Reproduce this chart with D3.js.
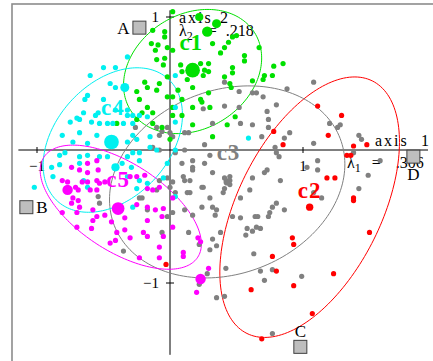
<!DOCTYPE html>
<html>
<head>
<meta charset="utf-8">
<script src="https://cdn.jsdelivr.net/npm/d3@7"></script>
<style>
html, body { margin: 0; padding: 0; background: #fff; overflow: hidden; }
svg { display: block; }
text { font-family: "Liberation Serif", "DejaVu Serif", serif; }
</style>
</head>
<body>
<svg id="chart" width="433" height="361"></svg>
<script>
// factorial map, axes 1-2, five classes + 4 supplementary points
const eigenValues = [".306", ".218"];
const tickValues = [-1, 1];
const xAxisExtent = [-1.14, 1.94];
const yAxisExtent = [-1.54, 1.05];

// points: [axis1, axis2, weight]
const c1Points = [[0.02,1.04],[0.22,1.00,2.5],[0.35,0.95,3],[0.28,0.89,4],[-0.13,0.90],[-0.04,0.89],[-0.04,0.85],[-0.14,0.80],[-0.09,0.79],[-0.11,0.75],[-0.02,0.77],[0.02,0.75],[0.32,0.80],[0.38,0.73],[0.44,0.81],[0.47,0.85],[0.50,0.86],[0.41,0.77],[0.56,0.71],[0.56,0.67],[0.67,0.77],[-0.10,0.68],[-0.04,0.69],[-0.05,0.64],[0.17,0.60,8],[0.08,0.64],[0.09,0.59],[0.23,0.65],[0.29,0.65],[0.26,0.60],[0.29,0.59],[0.25,0.56],[0.47,0.62],[0.47,0.58],[0.41,0.55],[0.62,0.52],[0.71,0.56],[0.77,0.56],[0.70,0.53],[0.85,0.65],[0.78,0.63],[0.45,0.50],[0.46,0.47],[-0.19,0.51],[-0.17,0.47],[-0.10,0.45],[-0.08,0.50],[-0.25,0.44],[-0.23,0.38],[-0.02,0.55],[-0.02,0.40],[0.02,0.40],[0.06,0.45],[0.09,0.38],[0.13,0.53],[0.17,0.47],[0.17,0.32],[0.23,0.38],[0.29,0.43],[-0.17,0.32],[-0.21,0.28],[-0.13,0.28],[0.02,0.32],[0.02,0.26],[0.09,0.26],[0.24,0.36],[0.30,0.32],[0.49,0.25],[-0.40,0.20],[-0.13,0.20],[-0.06,0.17],[0.00,0.08],[0.32,0.10],[0.17,0.19],[-0.25,0.23],[0.43,0.19]];
const c2Points = [[1.11,0.33],[1.29,0.26],[0.78,0.14],[1.19,0.11],[0.85,0.04],[1.38,0.03],[1.48,0.04],[1.33,-0.04],[1.36,-0.04],[1.18,-0.21],[1.24,-0.21],[1.38,-0.36],[1.38,-0.38],[1.05,-0.43,2],[1.50,-0.62],[0.92,-0.66],[0.93,-0.71],[0.77,-0.80],[0.80,-0.91],[0.61,-1.05],[0.93,-1.02],[1.23,-0.93],[1.07,-1.23],[0.69,-1.42],[-0.03,-0.86]];
const c3Points = [[0.41,0.51],[0.52,0.44],[0.62,0.43],[0.65,0.43],[0.70,0.40],[0.88,0.46],[1.08,0.51],[0.80,0.34],[0.73,0.29],[0.52,0.32],[0.41,0.33],[0.25,0.31],[0.74,0.23],[0.32,0.20],[0.62,0.19],[0.74,0.17],[0.53,0.20],[0.26,0.04],[0.69,0.10],[0.90,0.13],[0.86,0.09],[1.20,0.20],[1.28,0.19],[1.26,0.17],[1.08,0.05],[0.79,0.02],[0.80,-0.02],[0.82,-0.05],[0.26,-0.10],[1.42,0.11],[1.44,0.08],[1.38,-0.02],[1.58,-0.08],[1.49,-0.19],[1.42,-0.29],[1.11,-0.08],[1.03,-0.13],[1.11,-0.15],[0.32,-0.17],[0.43,-0.24,2],[0.41,-0.21],[0.45,-0.23],[0.41,-0.29],[0.40,-0.32],[0.62,-0.21],[0.73,-0.15],[0.71,-0.17],[0.60,-0.30],[0.83,-0.23],[0.24,-0.28],[0.30,-0.36],[0.53,-0.36],[0.24,-0.43],[0.32,-0.43],[0.35,-0.45],[0.77,-0.43],[0.80,-0.40],[0.86,-0.45],[1.14,-0.36],[1.08,-0.32],[0.47,-0.50],[0.53,-0.51],[0.74,-0.50],[0.64,-0.50],[-0.06,0.14],[0.11,0.13],[0.14,0.13],[0.10,-0.20],[0.11,-0.23],[0.17,-0.13],[0.17,-0.15],[0.02,-0.24],[-0.02,-0.21],[0.45,-0.26],[0.45,-0.20],[0.15,-0.32],[0.25,-0.28],[0.11,-0.45],[0.17,-0.49],[0.34,-0.49],[0.66,-0.50],[0.75,-0.47],[0.58,-0.59],[0.65,-0.58],[0.68,-0.59],[-0.08,0.11],[0.00,0.13],[-0.13,0.02],[-0.08,0.00],[0.04,-0.02],[0.11,0.00],[0.17,-0.08],[0.09,-0.10],[0.15,-0.23],[-0.08,-0.23],[0.04,-0.32],[0.13,-0.32],[-0.10,-0.30],[-0.23,-0.36],[-0.54,-0.35],[-0.53,-0.40],[-0.02,-0.50],[-0.10,0.17],[-0.02,0.17],[0.02,0.10],[-0.26,0.17],[-0.21,-0.36],[-0.17,-0.45],[0.00,-0.28],[0.02,-0.47],[0.30,-0.04],[-0.06,-0.62],[0.14,-0.62],[-0.35,-0.76],[0.22,-0.71],[0.32,-0.67],[0.35,-0.72],[0.30,-0.75],[0.28,-0.93],[0.22,-1.01],[0.35,-1.11],[0.38,-0.62],[0.57,-0.64],[0.62,-0.61],[0.63,-0.78],[0.42,-0.89],[0.68,-0.91],[0.77,-0.90],[0.71,-0.98],[0.99,-0.95],[0.41,-1.10],[0.77,-1.38]];
const c4Points = [[-0.32,0.70],[-0.60,0.56],[-0.50,0.62],[-0.41,0.62],[-0.62,0.41],[-0.64,0.38],[-0.34,0.47,3],[-0.45,0.50],[-0.41,0.47],[0.04,0.56],[-0.50,0.38],[-0.56,0.26],[-0.41,0.30],[-0.32,0.30],[-0.28,0.26],[-0.23,0.26],[-0.17,0.25],[-0.70,0.24],[-0.15,0.10],[0.04,0.21],[-0.32,-0.05],[-0.29,-0.13],[-0.23,-0.08],[-0.32,-0.20],[-0.23,-0.23],[-0.17,-0.25],[0.04,-0.35],[-0.81,0.11],[-0.75,0.21],[-0.68,0.23],[-0.59,0.21],[-0.65,0.28],[-0.53,0.20],[-0.54,0.28],[-0.47,0.20],[-0.43,0.20],[-0.44,0.06,8],[-0.73,0.06],[-0.68,0.13],[-0.62,0.05],[-0.55,0.11],[-0.35,0.20],[-0.32,0.26],[-0.28,0.20],[-0.28,0.11],[-0.25,0.08],[-0.32,0.06],[-0.15,0.02],[-0.10,0.00],[-0.83,-0.04],[-0.79,-0.02],[-0.89,-0.13],[-0.83,-0.11],[-0.68,-0.05],[-0.62,-0.04],[-0.68,-0.10],[-0.53,-0.05],[-0.47,-0.05],[-0.41,-0.13,2.5],[-0.28,-0.02],[-0.23,-0.02],[-0.36,-0.10],[-1.02,-0.28],[-0.88,-0.20],[-0.62,-0.28],[-0.65,-0.23],[-0.25,-0.29],[-0.28,-0.43],[-0.05,-0.21],[0.04,0.32],[-0.02,-0.10],[0.04,0.00],[0.59,0.09]];
const c5Points = [[-0.55,-0.08],[-0.62,-0.10],[-0.74,-0.13],[-0.68,-0.15],[-0.62,-0.17],[-0.54,-0.15],[-0.77,-0.30,4],[-0.81,-0.23],[-0.77,-0.24],[-0.71,-0.28],[-0.69,-0.30],[-0.66,-0.24],[-0.62,-0.24],[-0.55,-0.23],[-0.53,-0.25],[-0.49,-0.24],[-0.60,-0.30],[-0.55,-0.30],[-0.73,-0.36],[-0.69,-0.38],[-0.74,-0.40],[-0.68,-0.43],[-0.81,-0.47],[-0.70,-0.47],[-0.58,-0.45],[-0.55,-0.50],[-0.39,-0.44,6],[-0.30,-0.20],[-0.25,-0.20],[-0.19,-0.19],[-0.17,-0.29],[-0.13,-0.30],[-0.08,-0.28],[-0.34,-0.51],[-0.49,-0.49],[-0.58,-0.53],[-0.44,-0.54],[-0.25,-0.41],[-0.17,-0.43],[-0.11,-0.45],[-0.05,-0.44],[0.02,-0.36],[-0.06,-0.50],[-0.17,-0.53],[-0.34,-0.60],[-0.40,-0.62],[-0.30,-0.66],[-0.70,-0.58],[-0.59,-0.59],[0.02,-0.58],[-0.05,-0.65],[0.21,-0.66],[-0.20,-0.62],[-0.17,-0.65],[-0.45,-0.70],[-0.41,-0.68],[-0.08,-0.73],[-0.08,-0.81],[-0.23,-0.81],[0.10,-0.77],[0.10,-0.80],[0.23,-0.97,4],[0.29,-0.89],[0.20,-1.07],[0.23,-0.69]];

// class ellipses (centre, semi-axes, angle in degrees) and label anchors
const classNames = ["c1", "c2", "c3", "c4", "c5"];
const ellipseCenters = [[0.17,0.59],[1.05,-0.43],[0.43,-0.24],[-0.43,0.075],[-0.37,-0.43]];
const ellipseAxes = [[0.55,0.43],[1.06,0.54],[0.91,0.69],[0.62,0.43],[0.69,0.33]];
const ellipseAngles = [32, 63.6, 21, 48, -33];
const labelAnchors = [[0.16,0.75],[1.05,-0.36],[0.44,-0.075],[-0.43,0.26],[-0.39,-0.28]];

// supplementary points
const suppNames = ["A", "B", "C", "D"];
const suppX = [-0.23, -1.08, 0.98, 1.83];
const suppY = [0.92, -0.43, -1.48, -0.05];

const colors = { c1: "#00e000", c2: "#ff0000", c3: "#808080", c4: "#00f0f0", c5: "#ff00ff" };
const drawOrder = ["c3", "c2", "c1", "c4", "c5"];
const pointsByClass = { c1: c1Points, c2: c2Points, c3: c3Points, c4: c4Points, c5: c5Points };

const svg = d3.select("#chart");
const x = d3.scaleLinear().domain([-1, 1]).range([37, 303]);
const y = d3.scaleLinear().domain([-1, 1]).range([283, 17]);
const r = d3.scaleSqrt().domain([0, 1]).range([0, 2.6]);

// frame (figure is cropped on right and bottom)
svg.append("rect")
    .attr("x", 12).attr("y", 4)
    .attr("width", 470).attr("height", 420)
    .attr("fill", "none")
    .attr("stroke", "#8c8c8c")
    .attr("stroke-width", 1.6);

// axes
const axes = svg.append("g").attr("stroke", "#000").attr("stroke-width", 1);
axes.append("line")
    .attr("x1", x(xAxisExtent[0])).attr("x2", x(xAxisExtent[1]))
    .attr("y1", y(0)).attr("y2", y(0));
axes.append("line")
    .attr("x1", x(0)).attr("x2", x(0))
    .attr("y1", y(yAxisExtent[0])).attr("y2", y(yAxisExtent[1]));
axes.selectAll(".xt").data(tickValues).enter().append("line")
    .attr("x1", d => x(d)).attr("x2", d => x(d))
    .attr("y1", y(0) - 3).attr("y2", y(0) + 3);
axes.selectAll(".yt").data(tickValues).enter().append("line")
    .attr("y1", d => y(d)).attr("y2", d => y(d))
    .attr("x1", x(0) - 4).attr("x2", x(0) + 4);

const fmt = d3.format("d");
svg.selectAll(".xtl").data(tickValues).enter().append("text")
    .attr("x", d => x(d)).attr("y", y(0) + 21)
    .attr("text-anchor", "middle")
    .attr("font-size", 15)
    .text(fmt);
svg.selectAll(".ytl").data(tickValues).enter().append("text")
    .attr("x", x(0) - 11).attr("y", d => y(d) + 5)
    .attr("text-anchor", "end")
    .attr("font-size", 15)
    .text(fmt);

// axis titles with eigenvalues
function axisTitle(num, tx, ty, numDx, lx, ly, eqDx, valDx) {
    svg.append("text").attr("x", tx).attr("y", ty)
        .attr("font-size", 16).attr("letter-spacing", 2)
        .text("axis");
    svg.append("text").attr("x", tx + numDx).attr("y", ty)
        .attr("font-size", 16)
        .text(num);
    const t = svg.append("text").attr("x", lx).attr("y", ly).attr("font-size", 16);
    t.append("tspan").text("λ");
    t.append("tspan").attr("dy", 4).attr("font-size", 12).text(num);
    t.append("tspan").attr("dy", -4).attr("dx", eqDx).text("=");
    t.append("tspan").attr("dx", valDx).text(eigenValues[num - 1]);
}
axisTitle(1, 375, 146, 46, 347, 168, 11, 15);
axisTitle(2, 179, 23, 41, 179, 36, 15, 9);

// ellipses
const ellipseLine = d3.line().x(d => x(d[0])).y(d => y(d[1])).curve(d3.curveLinearClosed);
function ellipsePoints(i) {
    const [cx, cy] = ellipseCenters[i];
    const [a, b] = ellipseAxes[i];
    const th = ellipseAngles[i] * Math.PI / 180;
    return d3.range(0, 360, 2).map(t => {
        const u = t * Math.PI / 180;
        return [cx + a * Math.cos(th) * Math.cos(u) - b * Math.sin(th) * Math.sin(u),
                cy + a * Math.sin(th) * Math.cos(u) + b * Math.cos(th) * Math.sin(u)];
    });
}
svg.append("g").selectAll("path").data(classNames).enter().append("path")
    .attr("d", (d, i) => ellipseLine(ellipsePoints(i)))
    .attr("fill", "none")
    .attr("stroke", d => colors[d])
    .attr("stroke-width", 1);

// points
drawOrder.forEach(cls => {
    svg.append("g").selectAll("circle").data(pointsByClass[cls]).enter().append("circle")
        .attr("cx", d => x(d[0]))
        .attr("cy", d => y(d[1]))
        .attr("r", d => r(d[2] || 1))
        .attr("fill", colors[cls]);
});

// class labels
svg.append("g").selectAll("text").data(classNames).enter().append("text")
    .attr("x", (d, i) => x(labelAnchors[i][0]))
    .attr("y", (d, i) => y(labelAnchors[i][1]))
    .attr("text-anchor", "middle")
    .attr("font-family", "'DejaVu Serif', serif")
    .attr("font-weight", "bold")
    .attr("font-size", 23)
    .attr("letter-spacing", 1)
    .attr("fill", d => colors[d])
    .text(d => d);

// supplementary squares + labels
const supp = suppNames.map((n, i) => ({ name: n, x: suppX[i], y: suppY[i] }));
const labelOffset = { A: [-10, 6, "end"], B: [10, 6, "start"], C: [0, -10, "middle"], D: [0, 23, "middle"] };
svg.append("g").selectAll("rect").data(supp).enter().append("rect")
    .attr("x", d => x(d.x) - 6.5).attr("y", d => y(d.y) - 6.5)
    .attr("width", 13).attr("height", 13)
    .attr("fill", "#bebebe")
    .attr("stroke", "#404040")
    .attr("stroke-width", 1);
svg.append("g").selectAll("text").data(supp).enter().append("text")
    .attr("x", d => x(d.x) + labelOffset[d.name][0])
    .attr("y", d => y(d.y) + labelOffset[d.name][1])
    .attr("text-anchor", d => labelOffset[d.name][2])
    .attr("font-size", 17)
    .text(d => d.name);
</script>
</body>
</html>
